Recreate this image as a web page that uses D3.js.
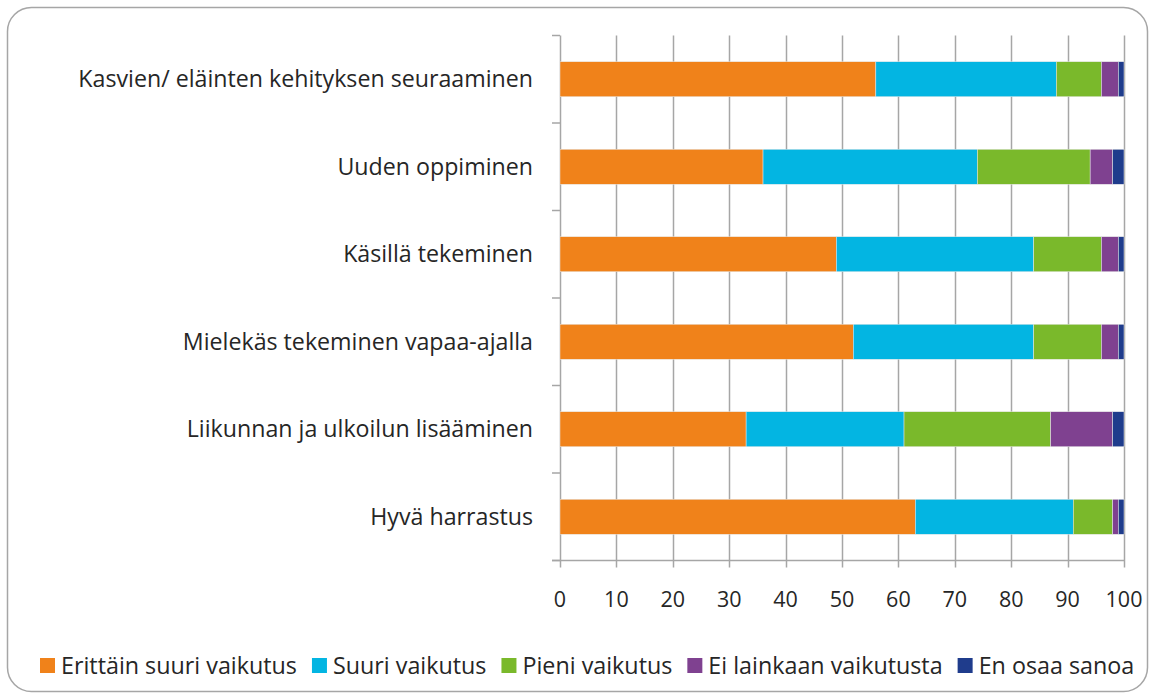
<!DOCTYPE html>
<html>
<head>
<meta charset="utf-8">
<script src="https://d3js.org/d3.v7.min.js"></script>
<style>
  body { margin: 0; background: #fff; }
  text { font-family: "Open Sans", sans-serif; fill: #262626; }
</style>
</head>
<body>
<script>
// categories top to bottom
const categories = [
  "Kasvien/ eläinten kehityksen seuraaminen",
  "Uuden oppiminen",
  "Käsillä tekeminen",
  "Mielekäs tekeminen vapaa-ajalla",
  "Liikunnan ja ulkoilun lisääminen",
  "Hyvä harrastus"
];
const seriesNames = ["Erittäin suuri vaikutus", "Suuri vaikutus", "Pieni vaikutus", "Ei lainkaan vaikutusta", "En osaa sanoa"];
const seriesColors = ["#f0821a", "#03b5e2", "#7ab92b", "#7f4190", "#1f3c8c"];
// values per series, same order as categories
const erittainSuuri = [56, 36, 49, 52, 33, 63];
const suuri         = [32, 38, 35, 32, 28, 28];
const pieni         = [8, 20, 12, 12, 26, 7];
const eiLainkaan    = [3, 4, 3, 3, 11, 1];
const enOsaa        = [1, 2, 1, 1, 2, 1];
const xTicks = [0, 10, 20, 30, 40, 50, 60, 70, 80, 90, 100];

const W = 1155, H = 695;
const svg = d3.select("body").append("svg").attr("width", W).attr("height", H);

// outer frame
svg.append("rect")
  .attr("x", 7.5).attr("y", 7.5).attr("width", 1140).attr("height", 684)
  .attr("rx", 24).attr("fill", "none").attr("stroke", "#a6a6a6").attr("stroke-width", 1.5);

const pLeft = 560, pRight = 1124, pTop = 35.5, pBottom = 560.5;

const x = d3.scaleLinear().domain([0, 100]).range([pLeft, pRight]);
const y = d3.scaleBand().domain(categories).range([pTop, pBottom]).paddingInner(0.6).paddingOuter(0.3);

// grid lines
svg.append("g").selectAll("line").data(xTicks).join("line")
  .attr("x1", d => Math.round(x(d)) + 0.5).attr("x2", d => Math.round(x(d)) + 0.5)
  .attr("y1", pTop).attr("y2", pBottom + 7)
  .attr("stroke", "#a6a6a6").attr("stroke-width", 1.5);

// category tick marks on y axis
const catEdges = d3.range(categories.length + 1).map(i => pTop + i * (pBottom - pTop) / categories.length);
svg.append("g").selectAll("line").data(catEdges).join("line")
  .attr("x1", pLeft - 8).attr("x2", pLeft)
  .attr("y1", d => d).attr("y2", d => d)
  .attr("stroke", "#a6a6a6").attr("stroke-width", 1.5);
// bottom axis line
svg.append("line").attr("x1", pLeft - 8).attr("x2", pRight + 1)
  .attr("y1", pBottom).attr("y2", pBottom).attr("stroke", "#a6a6a6").attr("stroke-width", 1.5);

// stacked data
const table = categories.map((c, i) => {
  const o = { cat: c };
  [erittainSuuri, suuri, pieni, eiLainkaan, enOsaa].forEach((arr, k) => o[seriesNames[k]] = arr[i]);
  return o;
});
const stacked = d3.stack().keys(seriesNames)(table);

svg.append("g").selectAll("g").data(stacked).join("g")
  .attr("fill", (d, i) => seriesColors[i])
  .selectAll("rect").data(d => d).join("rect")
    .attr("x", d => x(d[0]))
    .attr("width", d => x(d[1]) - x(d[0]))
    .attr("y", d => y(d.data.cat))
    .attr("height", y.bandwidth())
    .attr("stroke", "#e8e8e8").attr("stroke-width", 0.5);

// x tick labels
svg.append("g").selectAll("text").data(xTicks).join("text")
  .attr("x", d => x(d)).attr("y", 607)
  .attr("text-anchor", "middle")
  .style("font-size", "21.5px")
  .text(d => d);

// category labels
svg.append("g").selectAll("text").data(categories).join("text")
  .attr("x", 533).attr("y", d => y(d) + y.bandwidth() / 2 + 8)
  .attr("text-anchor", "end")
  .style("font-size", "23.2px")
  .text(d => d);

// legend
const leg = svg.append("g");
let lx = 40;
seriesNames.forEach((s, i) => {
  leg.append("rect").attr("x", lx).attr("y", 658).attr("width", 15).attr("height", 15).attr("fill", seriesColors[i]);
  const t = leg.append("text").attr("x", lx + 21).attr("y", 674)
    .style("font-size", "23.3px").text(s);
  lx += 21 + t.node().getComputedTextLength() + 15;
});
</script>
</body>
</html>
